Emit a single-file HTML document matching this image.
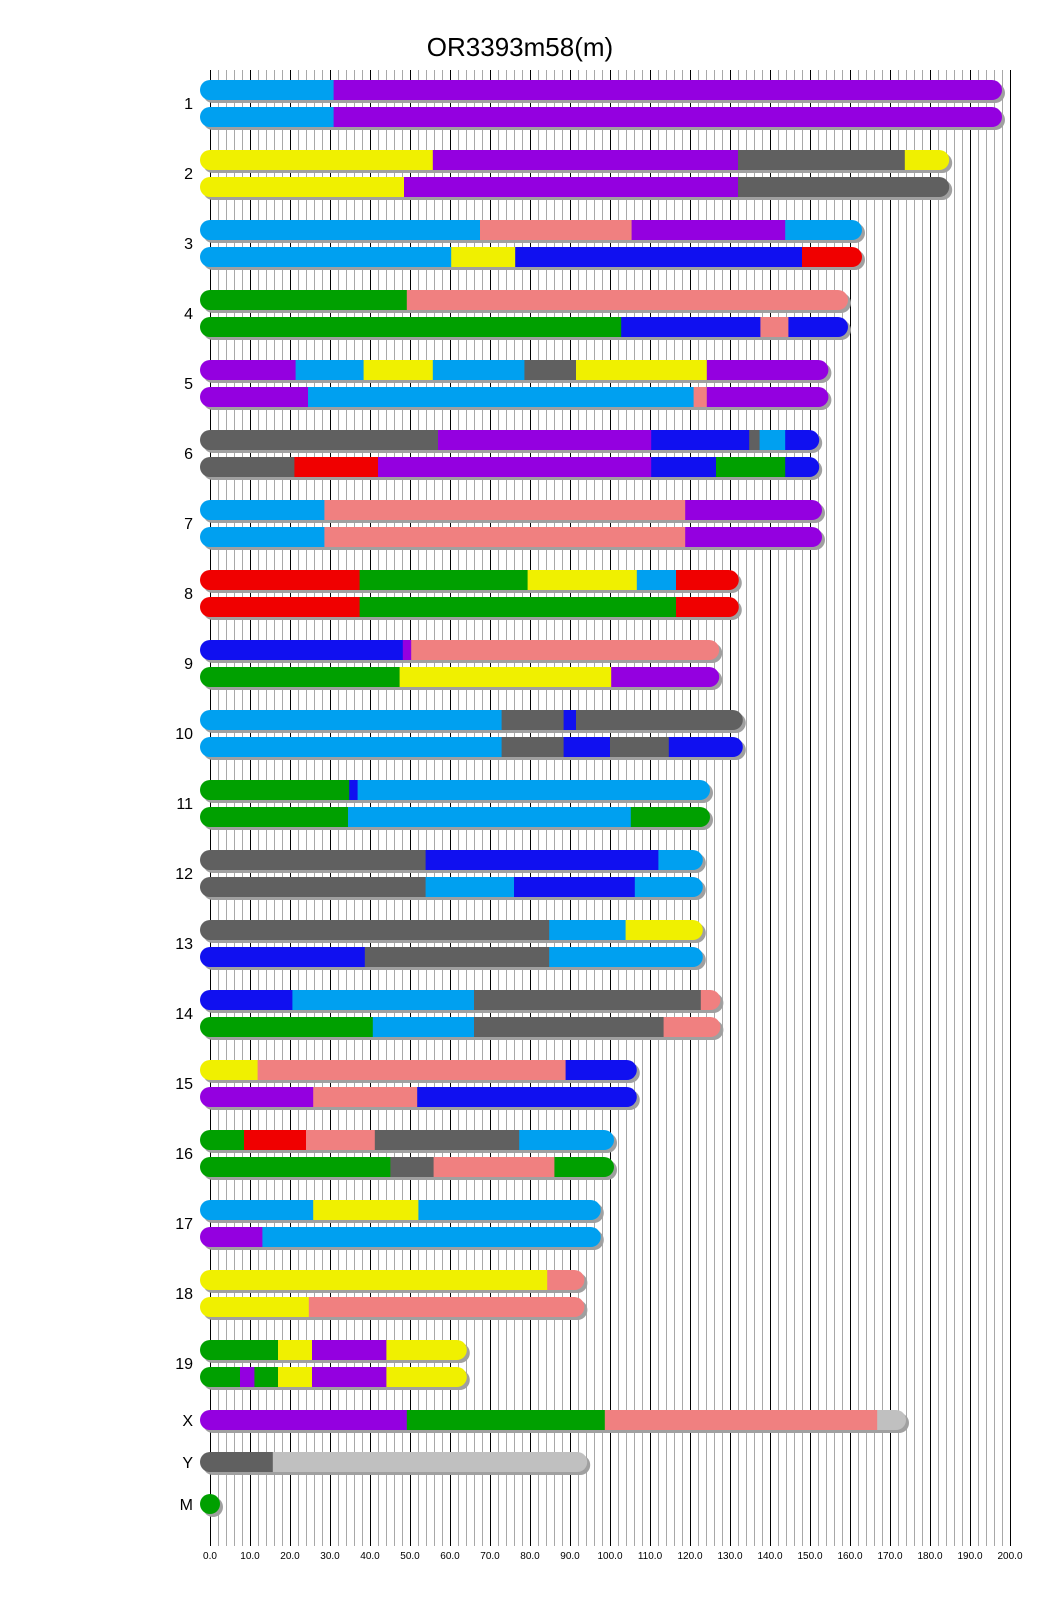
<!DOCTYPE html>
<html><head><meta charset="utf-8"><style>
html,body{margin:0;padding:0;background:#fff;}
svg{display:block;}
text{font-family:"Liberation Sans",sans-serif;fill:#000;}
</style></head><body>
<svg id="s" width="1040" height="1616" xmlns="http://www.w3.org/2000/svg">
<g id="grid"></g>
<g id="bars"></g>
<text x="520" y="56" font-size="26" text-anchor="middle">OR3393m58(m)</text>
<g font-size="16" text-anchor="end">
<text x="193" y="109">1</text><text x="193" y="179">2</text><text x="193" y="249">3</text><text x="193" y="319">4</text><text x="193" y="389">5</text><text x="193" y="459">6</text><text x="193" y="529">7</text><text x="193" y="599">8</text><text x="193" y="669">9</text><text x="193" y="739">10</text><text x="193" y="809">11</text><text x="193" y="879">12</text><text x="193" y="949">13</text><text x="193" y="1019">14</text><text x="193" y="1089">15</text><text x="193" y="1159">16</text><text x="193" y="1229">17</text><text x="193" y="1299">18</text><text x="193" y="1369">19</text><text x="193" y="1426">X</text><text x="193" y="1468">Y</text><text x="193" y="1510">M</text>
</g>
<g font-size="10" text-anchor="middle">
<text x="210" y="1559">0.0</text><text x="250" y="1559">10.0</text><text x="290" y="1559">20.0</text><text x="330" y="1559">30.0</text><text x="370" y="1559">40.0</text><text x="410" y="1559">50.0</text><text x="450" y="1559">60.0</text><text x="490" y="1559">70.0</text><text x="530" y="1559">80.0</text><text x="570" y="1559">90.0</text><text x="610" y="1559">100.0</text><text x="650" y="1559">110.0</text><text x="690" y="1559">120.0</text><text x="730" y="1559">130.0</text><text x="770" y="1559">140.0</text><text x="810" y="1559">150.0</text><text x="850" y="1559">160.0</text><text x="890" y="1559">170.0</text><text x="930" y="1559">180.0</text><text x="970" y="1559">190.0</text><text x="1010" y="1559">200.0</text>
</g>
</svg>
<script>
(function(){
var NS="http://www.w3.org/2000/svg";
var g=document.getElementById('grid');
for(var i=0;i<=100;i++){var x=210+i*8+0.5;var l=document.createElementNS(NS,'line');
l.setAttribute('x1',x);l.setAttribute('x2',x);l.setAttribute('y1',70);l.setAttribute('y2',1546);
l.setAttribute('stroke',i%5==0?'#000':'#a8a8a8');l.setAttribute('stroke-width',1);g.appendChild(l);}
var C={b:'#00a0f0',p:'#9400e0',y:'#f0f000',g:'#606060',s:'#f08080',d:'#1010f0',r:'#f00000',n:'#00a000',l:'#c0c0c0'};
var B=[
[198,['b',30.9,'p']],[198,['b',30.9,'p']],
[184.8,['y',55.7,'p',132,'g',173.7,'y']],[184.8,['y',48.5,'p',132,'g']],
[163,['b',67.5,'s',105.4,'p',143.8,'b']],[163,['b',60.3,'y',76.3,'d',148,'r']],
[159.5,['n',49.2,'s']],[159.5,['n',102.8,'d',137.6,'s',144.6,'d']],
[154.6,['p',21.4,'b',38.4,'y',55.7,'b',78.6,'g',91.5,'y',124.2,'p']],[154.6,['p',24.5,'b',120.9,'s',124.2,'p']],
[152.3,['g',57,'p',110.3,'d',134.8,'g',137.4,'b',143.8,'d']],[152.3,['g',21.1,'r',42,'p',110.3,'d',126.5,'n',143.8,'d']],
[153,['b',28.6,'s',118.8,'p']],[153,['b',28.6,'s',118.8,'p']],
[132.2,['r',37.4,'n',79.4,'y',106.7,'b',116.5,'r']],[132.2,['r',37.4,'n',116.5,'r']],
[127.3,['d',48.2,'p',50.3,'s']],[127.3,['n',47.4,'y',100.3,'p']],
[133.2,['b',72.9,'g',88.4,'d',91.5,'g']],[133.2,['b',72.9,'g',88.4,'d',100,'g',114.7,'d']],
[125,['n',34.8,'d',36.9,'b']],[125,['n',34.5,'b',105.2,'n']],
[123.2,['g',53.9,'d',112.1,'b']],[123.2,['g',53.9,'b',76,'d',106.2,'b']],
[123.2,['g',84.8,'b',103.9,'y']],[123.2,['d',38.7,'g',84.8,'b']],
[127.6,['d',20.6,'b',66,'g',122.7,'s']],[127.6,['n',40.7,'b',66,'g',113.4,'s']],
[106.7,['y',11.9,'s',88.9,'d']],[106.7,['p',25.8,'s',51.8,'d']],
[101,['n',8.5,'r',24,'s',41.2,'g',77.3,'b']],[101,['n',45.1,'g',55.9,'s',86.1,'n']],
[97.7,['b',25.8,'y',52.1,'b']],[97.7,['p',13.1,'b']],
[93.6,['y',84.3,'s']],[93.6,['y',24.7,'s']],
[64.2,['n',17,'y',25.5,'p',44.1,'y']],[64.2,['n',7.5,'p',11.1,'n',17,'y',25.5,'p',44.1,'y']]
];
var bars=document.getElementById('bars');
function el(t,a,p){var e=document.createElementNS(NS,t);for(var k in a)e.setAttribute(k,a[k]);(p||bars).appendChild(e);return e;}
var cid=0;
function bar(yy,L,segs){
  var xr=210+L*4, w=xr-200;
  el('rect',{x:203,y:yy+3,width:w,height:20,rx:10,fill:'#a0a0a0'});
  var cp=el('clipPath',{id:'c'+cid});el('rect',{x:200,y:yy,width:w,height:20,rx:10},cp);
  var gg=el('g',{'clip-path':'url(#c'+cid+')'});cid++;
  var start=200;
  for(var i=0;i<segs.length;i+=2){
    var col=C[segs[i]];var end=(i+1<segs.length)?210+segs[i+1]*4:xr;
    el('rect',{x:start,y:yy,width:end-start+0.5,height:20,fill:col},gg);start=end;
  }
}
for(var c=0;c<19;c++){var tp=80+c*70;bar(tp,B[2*c][0],B[2*c][1]);bar(tp+27,B[2*c+1][0],B[2*c+1][1]);}
bar(1410,174,['p',49.2,'n',98.7,'s',166.8,'l']);
bar(1452,94.3,['g',15.7,'l']);
el('circle',{cx:213,cy:1507,r:10,fill:'#a0a0a0'});
el('circle',{cx:210,cy:1504,r:10,fill:'#00a000'});
})();
</script>
</body></html>
